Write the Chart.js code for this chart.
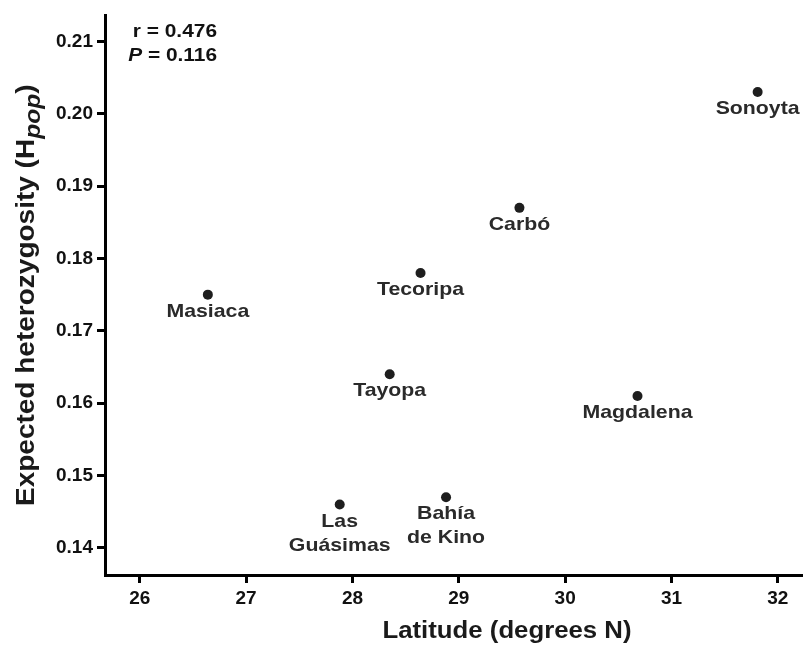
<!DOCTYPE html>
<html>
<head>
<meta charset="utf-8">
<script src="https://cdn.jsdelivr.net/npm/chart.js@4/dist/chart.umd.min.js"></script>
<style>
  html, body { margin: 0; padding: 0; background: #fff; }
  #wrap { width: 807px; height: 646px; position: relative; }
</style>
</head>
<body>
<div id="wrap"><canvas id="c" width="807" height="646"></canvas></div>
<script>
// ---- data ----
const sites = ["Sonoyta", "Carbó", "Tecoripa", "Masiaca", "Tayopa", "Magdalena", "Las\nGuásimas", "Bahía\nde Kino"];
const latitude = [31.81, 29.57, 28.64, 26.64, 28.35, 30.68, 27.88, 28.88];
const heterozygosity = [0.203, 0.187, 0.178, 0.175, 0.164, 0.161, 0.146, 0.147];
const xTicks = [26, 27, 28, 29, 30, 31, 32];
const yTicks = [0.14, 0.15, 0.16, 0.17, 0.18, 0.19, 0.20, 0.21];
const statsLines = [["r", " = 0.476"], ["P", " = 0.116"]];
const xTitle = "Latitude (degrees N)";
const yTitleParts = ["Expected heterozygosity (H", "pop", ")"];

const FONT = '"Liberation Sans", Arial, Helvetica, sans-serif';
const STRETCH = 1.12;

function stretchedText(ctx, text, x, y, sx) {
  ctx.save();
  ctx.translate(x, y);
  ctx.scale(sx, 1);
  ctx.fillText(text, 0, 0);
  ctx.restore();
}

const annotate = {
  id: 'annotate',
  afterDatasetsDraw(chart) {
    const ctx = chart.ctx;
    const xs = chart.scales.x, ys = chart.scales.y;
    ctx.save();
    // point labels
    ctx.fillStyle = '#2a2a2a';
    ctx.textAlign = 'center';
    ctx.textBaseline = 'middle';
    ctx.font = 'bold 19px ' + FONT;
    sites.forEach((name, i) => {
      const px = xs.getPixelForValue(latitude[i]);
      const py = ys.getPixelForValue(heterozygosity[i]);
      const lines = name.split('\n');
      lines.forEach((ln, k) => {
        stretchedText(ctx, ln, px, py + 17 + k * 24, STRETCH);
      });
    });
    // statistics text (right aligned)
    ctx.fillStyle = '#111';
    ctx.textBaseline = 'alphabetic';
    ctx.textAlign = 'left';
    const rightX = 217;
    const sst = 1.16;
    statsLines.forEach((parts, k) => {
      const baseY = 37 + k * 24;
      const f0 = (parts[0] === 'P' ? 'italic bold ' : 'bold ') + '18px ' + FONT;
      const f1 = 'bold 18px ' + FONT;
      ctx.font = f0; const w0 = ctx.measureText(parts[0]).width * sst;
      ctx.font = f1; const w1 = ctx.measureText(parts[1]).width * sst;
      let x0 = rightX - w0 - w1;
      ctx.font = f0; stretchedText(ctx, parts[0], x0, baseY, sst);
      ctx.font = f1; stretchedText(ctx, parts[1], x0 + w0, baseY, sst);
    });
    // x title
    ctx.fillStyle = '#1a1a1a';
    ctx.font = 'bold 23px ' + FONT;
    ctx.textAlign = 'center';
    stretchedText(ctx, xTitle, 507, 638, STRETCH);
    // y title (rotated)
    const fMain = 'bold 25px ' + FONT;
    const fSub = 'italic bold 22px ' + FONT;
    ctx.textAlign = 'left';
    ctx.font = fMain; const a = ctx.measureText(yTitleParts[0]).width;
    ctx.font = fSub; const b = ctx.measureText(yTitleParts[1]).width;
    ctx.font = fMain; const c = ctx.measureText(yTitleParts[2]).width;
    const total = (a + b + c) * STRETCH;
    const cy = (chart.chartArea.top + chart.chartArea.bottom) / 2;
    ctx.save();
    ctx.translate(34, cy);
    ctx.rotate(-Math.PI / 2);
    ctx.scale(STRETCH, 1);
    let sx = -total / STRETCH / 2;
    ctx.font = fMain; ctx.fillText(yTitleParts[0], sx, 0); sx += a;
    ctx.font = fSub; ctx.fillText(yTitleParts[1], sx, 6); sx += b;
    ctx.font = fMain; ctx.fillText(yTitleParts[2], sx, 0);
    ctx.restore();
    ctx.restore();
  }
};

new Chart(document.getElementById('c'), {
  type: 'scatter',
  data: {
    datasets: [{
      data: latitude.map((x, i) => ({ x: x, y: heterozygosity[i] })),
      backgroundColor: '#1e1e1e',
      borderColor: '#1e1e1e',
      pointRadius: 5,
      pointHoverRadius: 5,
      borderWidth: 0
    }]
  },
  options: {
    responsive: false,
    animation: false,
    events: [],
    layout: { padding: { top: 12, right: 0, bottom: 0, left: 0 } },
    plugins: { legend: { display: false }, tooltip: { enabled: false } },
    scales: {
      x: {
        type: 'linear',
        min: 25.673, max: 32.227,
        afterBuildTicks: (s) => { s.ticks = xTicks.map(v => ({ value: v })); },
        afterFit: (s) => { s.height = 71; },
        border: { display: true, color: '#000', width: 3 },
        grid: { display: true, drawOnChartArea: false, drawTicks: true, tickLength: 8, tickWidth: 3, tickColor: '#000' },
        ticks: { color: '#111', font: { family: FONT, size: 19, weight: 'bold' }, padding: 4, maxRotation: 0,
                 callback: (v) => String(v) }
      },
      y: {
        type: 'linear',
        min: 0.13625, max: 0.2136,
        afterBuildTicks: (s) => { s.ticks = yTicks.map(v => ({ value: v })); },
        afterFit: (s) => { s.width = 105; },
        border: { display: true, color: '#000', width: 3 },
        grid: { display: true, drawOnChartArea: false, drawTicks: true, tickLength: 8, tickWidth: 3, tickColor: '#000' },
        ticks: { color: '#111', font: { family: FONT, size: 19, weight: 'bold' }, padding: 4,
                 callback: (v) => Number(v).toFixed(2) }
      }
    }
  },
  plugins: [annotate]
});
</script>
</body>
</html>
